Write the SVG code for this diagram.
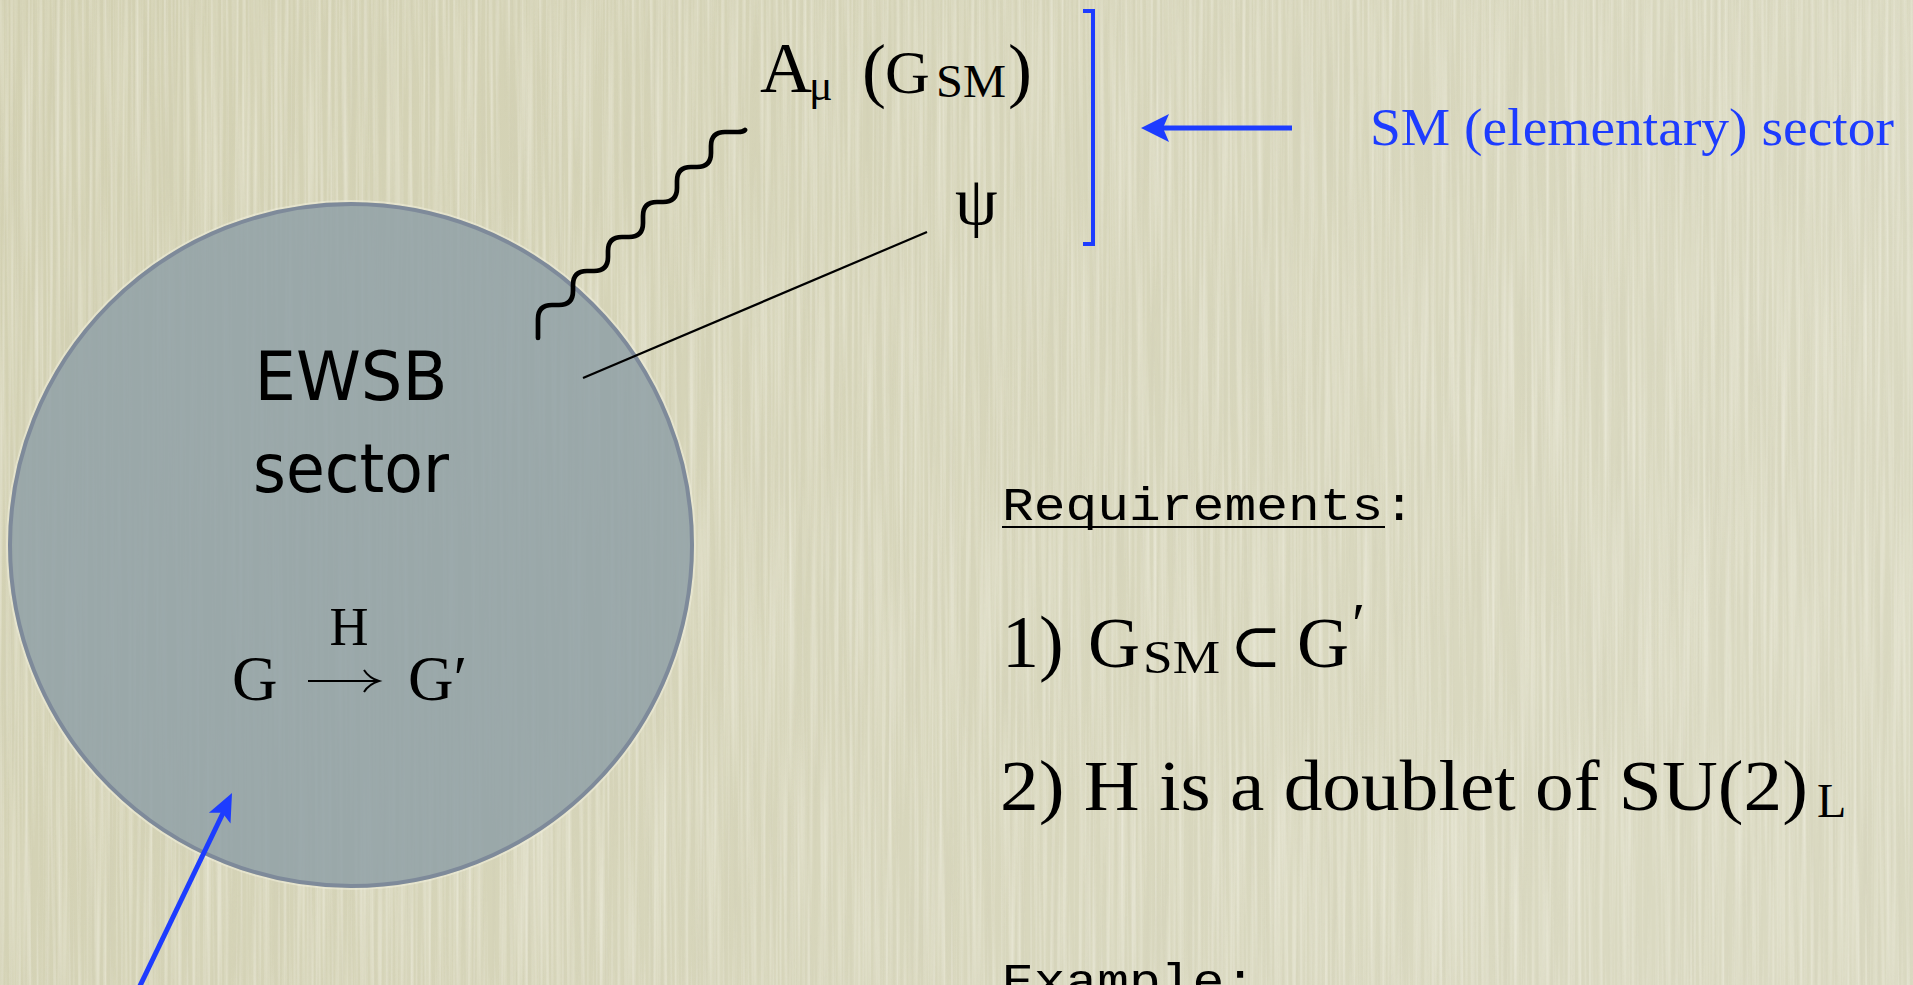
<svg xmlns="http://www.w3.org/2000/svg" width="1913" height="985" viewBox="0 0 1913 985">
<defs>
<linearGradient id="bgGrad" x1="0" y1="0" x2="1" y2="0.3">
<stop offset="0" stop-color="#d2d0b1"/>
<stop offset="1" stop-color="#dad9c1"/>
</linearGradient>
<filter id="paper" x="0" y="0" width="100%" height="100%" filterUnits="userSpaceOnUse">
<feTurbulence type="fractalNoise" baseFrequency="0.28 0.004" numOctaves="2" seed="7"/>
<feColorMatrix type="matrix" values="0 0 0 0 0.95  0 0 0 0 0.94  0 0 0 0 0.86  1.6 0 0 0 -0.62"/>
</filter>
<filter id="paperDark" x="0" y="0" width="100%" height="100%" filterUnits="userSpaceOnUse">
<feTurbulence type="fractalNoise" baseFrequency="0.22 0.005" numOctaves="2" seed="21"/>
<feColorMatrix type="matrix" values="0 0 0 0 0.6  0 0 0 0 0.58  0 0 0 0 0.45  1.4 0 0 0 -0.6"/>
</filter>
<style>
.serif{font-family:"Liberation Serif","Times New Roman",serif;fill:#000}
.mono{font-family:"Liberation Mono","Courier New",monospace;fill:#000}
.comic{font-family:"DejaVu Sans","Noto Sans",sans-serif;fill:#000}
.blue{fill:#1d3cff}
.bluestroke{stroke:#1d3cff;fill:none}
</style>
</defs>

<!-- background -->
<rect x="0" y="0" width="1913" height="985" fill="url(#bgGrad)"/>
<rect x="0" y="0" width="1913" height="985" filter="url(#paperDark)" opacity="0.35"/>
<rect x="0" y="0" width="1913" height="985" filter="url(#paper)" opacity="0.6"/>

<!-- EWSB sector node -->
<g id="ewsb-sector">
<circle cx="351" cy="545" r="344" fill="none" stroke="#eeecd8" stroke-width="2" opacity="0.6"/>
<circle cx="351" cy="545" r="341" fill="#90a1a6" fill-opacity="0.86" stroke="#7e8a9a" stroke-width="4"/>
<text class="comic" x="351" y="400" font-size="68" text-anchor="middle" textLength="193" lengthAdjust="spacingAndGlyphs">EWSB</text>
<text class="comic" x="351" y="492" font-size="68" text-anchor="middle" textLength="196" lengthAdjust="spacingAndGlyphs">sector</text>
<g id="breaking">
<text class="serif" x="232" y="700" font-size="63">G</text>
<text class="serif" x="349" y="645" font-size="54" text-anchor="middle">H</text>
<line x1="308" y1="681" x2="378" y2="681" stroke="#000" stroke-width="2"/>
<path d="M364,670 Q369,678 379,681 Q369,684 364,692" fill="none" stroke="#000" stroke-width="2"/>
<text class="serif" x="408" y="700" font-size="63">G′</text>
</g>
</g>

<!-- SM fields -->
<g id="gauge-field">
<text class="serif" x="760" y="92" font-size="72">A</text>
<text class="serif" x="809" y="100" font-size="44">μ</text>
<text class="serif" x="862" y="94" font-size="72">(</text>
<text class="serif" x="885" y="93" font-size="62">G</text>
<text class="serif" x="936" y="97" font-size="46" textLength="70" lengthAdjust="spacingAndGlyphs">SM</text>
<text class="serif" x="1008" y="94" font-size="72">)</text>
</g>
<g id="fermion">
<text class="serif" x="955" y="224" font-size="68">ψ</text>
</g>

<g id="sm-sector">
<path class="bluestroke" d="M1083,11 H1093 V244 H1083" stroke-width="4"/>
<text class="blue" x="1370" y="145" font-family="Liberation Serif, Times New Roman, serif" font-size="53" textLength="524" lengthAdjust="spacingAndGlyphs">SM (elementary) sector</text>
</g>

<!-- connectors -->
<g id="connectors">
<path d="M538,338 V319 Q538,305 552,305 H559 Q573,305 573,291 V285 Q573,271 587,271 H594 Q608,271 608,257 V251 Q608,237 622,237 H629 Q643,237 643,223 V216 Q643,202 657,202 H663 Q677,202 677,188 V181 Q677,167 691,167 H697 Q711,167 711,153 V146 Q711,132 725,132 H738 Q743,132 745,130" fill="none" stroke="#000" stroke-width="4.7" stroke-linecap="round" stroke-linejoin="round"/>
<line x1="583" y1="378" x2="927" y2="232" stroke="#000" stroke-width="2.2"/>
<line class="bluestroke" x1="1292" y1="128" x2="1160" y2="128" stroke-width="5"/>
<path class="blue" d="M1141,128 L1169,114 L1163,128 L1169,142 Z"/>
<line class="bluestroke" x1="138" y1="990" x2="224" y2="811" stroke-width="5"/>
<path class="blue" d="M232,793 L230.5,823.4 L222.3,812.8 L208.9,812.8 Z"/>
</g>

<!-- requirements -->
<g id="requirements">
<text class="mono" x="1002" y="520" font-size="46" textLength="413" lengthAdjust="spacingAndGlyphs">Requirements:</text>
<line x1="1002" y1="527" x2="1385" y2="527" stroke="#000" stroke-width="2"/>
</g>
<g id="req-1">
<text class="serif" x="1002" y="667" font-size="74">1)</text>
<text class="serif" x="1088" y="667" font-size="72">G</text>
<text class="serif" x="1143" y="673" font-size="46" textLength="77" lengthAdjust="spacingAndGlyphs">SM</text>
<text x="1230" y="667" font-family="DejaVu Serif, serif" font-size="62">⊂</text>
<text class="serif" x="1297" y="667" font-size="72">G</text>
<text class="serif" x="1352" y="644" font-size="60">′</text>
</g>
<g id="req-2">
<text class="serif" x="1000" y="810" font-size="72" textLength="808" lengthAdjust="spacingAndGlyphs">2) H is a doublet of SU(2)</text>
<text class="serif" x="1817" y="817" font-size="48">L</text>
</g>
<g id="example">
<text class="mono" x="1002" y="996" font-size="46" textLength="254" lengthAdjust="spacingAndGlyphs">Example:</text>
</g>
</svg>
